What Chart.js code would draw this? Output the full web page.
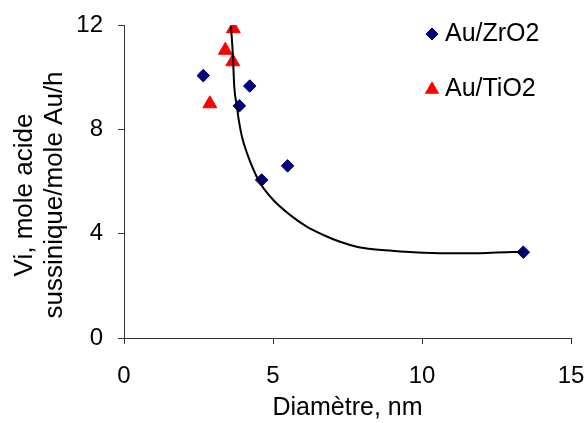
<!DOCTYPE html>
<html>
<head>
<meta charset="utf-8">
<script src="https://cdn.jsdelivr.net/npm/chart.js@4.4.0/dist/chart.umd.min.js"></script>
<style>
  html, body { margin: 0; padding: 0; background: #fff; }
  #wrap { width: 586px; height: 423px; }
</style>
</head>
<body>
<div id="wrap"><canvas id="diamChart" width="586" height="423"></canvas></div>
<script>
// Au/ZrO2 points (diameter nm, Vi)
const zrX = [2.66, 4.22, 3.87, 4.62, 5.49, 13.40];
const zrY = [10.06, 9.66, 8.90, 6.06, 6.60, 3.29];

// Au/TiO2 points
const tiX = [3.67, 3.40, 3.65, 2.88];
const tiY = [11.86, 11.03, 10.59, 8.98];

// trend curve
const fitX = [3.59, 3.65, 3.70, 3.79, 3.85, 3.96, 4.13, 4.35, 4.57, 5.01, 5.57, 6.13, 6.69, 7.25, 7.81, 8.37, 8.93, 9.71, 10.83, 11.95, 13.06, 13.40];
const fitY = [11.94, 10.92, 9.64, 8.87, 8.36, 7.71, 7.08, 6.44, 5.93, 5.29, 4.72, 4.27, 3.95, 3.69, 3.50, 3.40, 3.35, 3.29, 3.25, 3.25, 3.30, 3.30];

const xTicks = [0, 5, 10, 15];
const yTicks = [0, 4, 8, 12];
const yTitleLines = ['Vi, mole acide', 'sussinique/mole Au/h'];
const legendNames = ['Au/ZrO2', 'Au/TiO2'];

function toPoints(xs, ys) {
    return xs.map((x, i) => ({ x: x, y: ys[i] }));
}

const FONT = '"Liberation Sans", Arial, sans-serif';

// y title in two lines + legend in the top right corner
const extrasPlugin = {
    id: 'extras',
    afterDraw(chart) {
        const ctx = chart.ctx;
        ctx.save();
        ctx.fillStyle = '#000';
        ctx.font = '26px ' + FONT;
        ctx.textAlign = 'center';
        ctx.textBaseline = 'alphabetic';
        const cy = 195;
        const bases = [32, 62];
        yTitleLines.forEach((t, i) => {
            ctx.save();
            ctx.translate(bases[i], cy);
            ctx.rotate(-Math.PI / 2);
            ctx.fillText(t, 0, 0);
            ctx.restore();
        });
        ctx.restore();

        // legend
        ctx.save();
        ctx.lineWidth = 1;
        ctx.fillStyle = '#000080';
        ctx.strokeStyle = '#000080';
        Chart.helpers.drawPoint(ctx, { pointStyle: 'rectRot', radius: 6, borderWidth: 1 }, 432, 34);
        ctx.fillStyle = '#ff0000';
        ctx.strokeStyle = '#ff0000';
        Chart.helpers.drawPoint(ctx, { pointStyle: 'triangle', radius: 7.5, borderWidth: 1 }, 432, 89.5);
        ctx.fillStyle = '#000';
        ctx.font = '25px ' + FONT;
        ctx.textAlign = 'left';
        ctx.textBaseline = 'alphabetic';
        ctx.fillText(legendNames[0], 445, 40.5);
        ctx.fillText(legendNames[1], 445, 95.5);
        ctx.restore();
    }
};

const ctx = document.getElementById('diamChart').getContext('2d');
window.diamChart = new Chart(ctx, {
    type: 'scatter',
    data: {
        datasets: [{
            label: 'fit',
            data: toPoints(fitX, fitY),
            showLine: true,
            borderColor: '#000',
            borderWidth: 2,
            pointRadius: 0,
            cubicInterpolationMode: 'monotone',
            fill: false
        }, {
            label: legendNames[0],
            data: toPoints(zrX, zrY),
            pointStyle: 'rectRot',
            pointRadius: 6.3,
            backgroundColor: '#000080',
            borderColor: '#000080',
            borderWidth: 1
        }, {
            label: legendNames[1],
            data: toPoints(tiX, tiY),
            pointStyle: 'triangle',
            pointRadius: 8,
            backgroundColor: '#ff0000',
            borderColor: '#ff0000',
            borderWidth: 1
        }]
    },
    options: {
        responsive: false,
        maintainAspectRatio: false,
        animation: false,
        events: [],
        // plot area: left 124, top 25, right 571, bottom 338
        layout: { padding: { top: 25, right: 15, left: 0, bottom: 0 } },
        plugins: {
            legend: { display: false },
            tooltip: { enabled: false }
        },
        scales: {
            x: {
                type: 'linear',
                min: 0,
                max: 15,
                afterBuildTicks: s => { s.ticks = xTicks.map(v => ({ value: v })); },
                afterFit: s => { s.height = 85; s.paddingLeft = 0; s.paddingRight = 0; },
                grid: { drawOnChartArea: false, tickLength: 6, color: '#333' },
                border: { color: '#333', width: 1 },
                ticks: { color: '#000', font: { family: FONT, size: 24 }, padding: 18, maxRotation: 0 },
                title: {
                    display: true,
                    text: 'Diamètre, nm',
                    color: '#000',
                    font: { family: FONT, size: 25 },
                    padding: { top: 4, bottom: 0 }
                }
            },
            y: {
                type: 'linear',
                min: 0,
                max: 12,
                afterBuildTicks: s => { s.ticks = yTicks.map(v => ({ value: v })); },
                afterFit: s => { s.width = 124; s.paddingTop = 0; s.paddingBottom = 0; },
                grid: { drawOnChartArea: false, tickLength: 6, color: '#333' },
                border: { color: '#333', width: 1 },
                ticks: { color: '#000', font: { family: FONT, size: 24 }, padding: 15 }
            }
        }
    },
    plugins: [extrasPlugin]
});
</script>
</body>
</html>
